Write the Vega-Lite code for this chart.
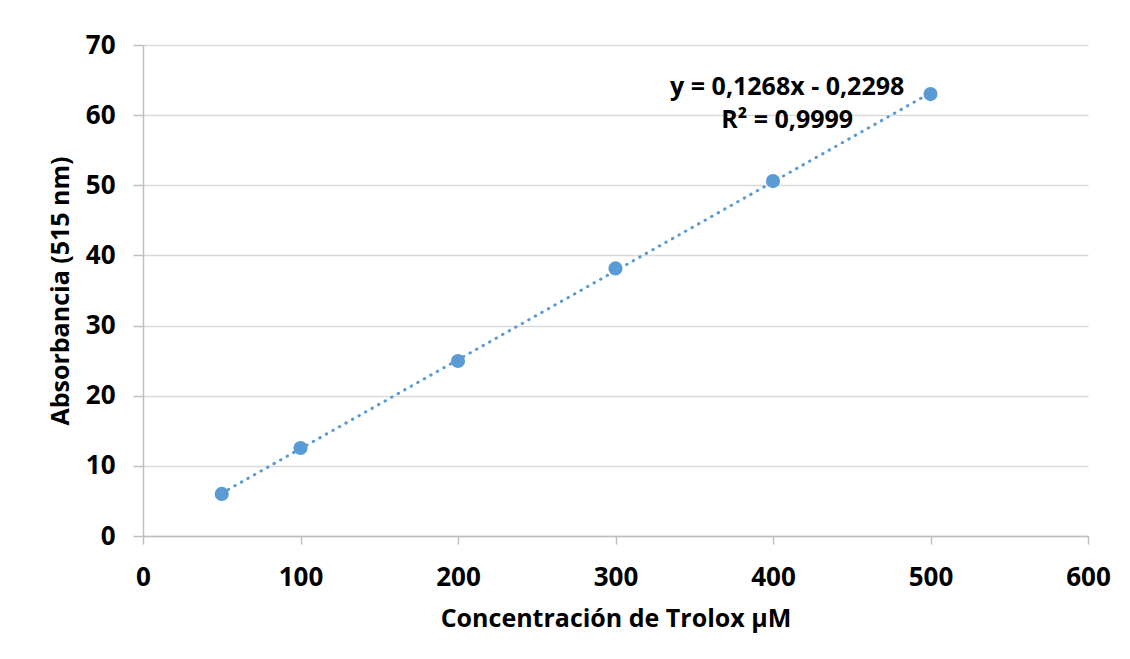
{
  "$schema": "https://vega.github.io/schema/vega-lite/v6.json",
  "width": 945,
  "height": 491,
  "autosize": "none",
  "padding": {"left": 143, "top": 45, "right": 42, "bottom": 123},
  "background": "white",
  "config": {"view": {"stroke": null}, "font": "Open Sans"},
  "datasets": {
    "points": [
      {"conc": 50, "abs": 6.0},
      {"conc": 100, "abs": 12.55},
      {"conc": 200, "abs": 24.95},
      {"conc": 300, "abs": 38.15},
      {"conc": 400, "abs": 50.6},
      {"conc": 500, "abs": 63.0}
    ],
    "trend": [
      {"conc": 50, "abs": 6.1102},
      {"conc": 500, "abs": 63.1702}
    ],
    "labels": [
      {"conc": 409, "abs": 64.0, "t": "y = 0,1268x - 0,2298"},
      {"conc": 409, "abs": 59.3, "t": "R² = 0,9999"}
    ]
  },
  "layer": [
    {
      "data": {"name": "trend"},
      "mark": {"type": "line", "color": "#5B9BD5", "strokeWidth": 3, "strokeDash": [0.5, 7], "strokeCap": "round"},
      "encoding": {
        "x": {
          "field": "conc", "type": "quantitative",
          "scale": {"domain": [0, 600], "nice": false, "zero": false},
          "axis": {
            "values": [0, 100, 200, 300, 400, 500, 600],
            "grid": false, "labelFlush": false,
            "domainColor": "#bfbfbf", "domainWidth": 1.5,
            "tickColor": "#bfbfbf", "tickWidth": 1.5, "tickSize": 8,
            "labelFontSize": 26, "labelFontWeight": "bold", "labelColor": "#000000", "labelPadding": 20,
            "title": "Concentración de Trolox µM",
            "titleFontSize": 25, "titleFontWeight": "bold", "titleColor": "#000000", "titlePadding": 16
          }
        },
        "y": {
          "field": "abs", "type": "quantitative",
          "scale": {"domain": [0, 70], "nice": false, "zero": false},
          "axis": {
            "values": [0, 10, 20, 30, 40, 50, 60, 70],
            "grid": true, "gridColor": "#d9d9d9", "gridWidth": 1.5, "labelFlush": false,
            "domainColor": "#bfbfbf", "domainWidth": 1.5,
            "tickColor": "#bfbfbf", "tickWidth": 1.5, "tickSize": 10,
            "labelFontSize": 26, "labelFontWeight": "bold", "labelColor": "#000000", "labelPadding": 18,
            "title": "Absorbancia (515 nm)",
            "titleFontSize": 25, "titleFontWeight": "bold", "titleColor": "#000000", "titlePadding": 12
          }
        }
      }
    },
    {
      "data": {"name": "points"},
      "mark": {"type": "point", "filled": true, "opacity": 1, "color": "#5B9BD5", "size": 200},
      "encoding": {
        "x": {"field": "conc", "type": "quantitative"},
        "y": {"field": "abs", "type": "quantitative"}
      }
    },
    {
      "data": {"name": "labels"},
      "mark": {"type": "text", "fontSize": 25, "fontWeight": "bold", "color": "#000000", "align": "center", "baseline": "middle"},
      "encoding": {
        "x": {"field": "conc", "type": "quantitative"},
        "y": {"field": "abs", "type": "quantitative"},
        "text": {"field": "t"}
      }
    }
  ]
}
